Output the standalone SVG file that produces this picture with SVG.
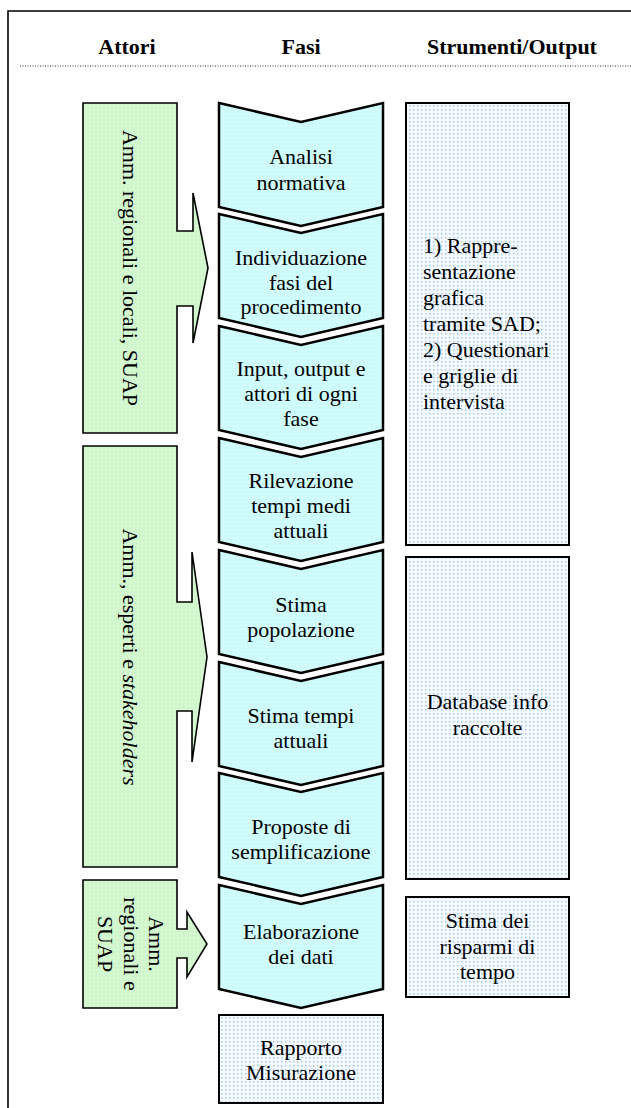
<svg xmlns="http://www.w3.org/2000/svg" width="631" height="1108" viewBox="0 0 631 1108" font-family="'Liberation Serif', 'DejaVu Serif', 'Noto Serif', serif">
<defs>
<pattern id="dots" width="4" height="4" patternUnits="userSpaceOnUse">
<rect width="4" height="4" fill="#f7fbff"/>
<rect x="1" y="1" width="1.5" height="1.5" fill="#9cc9f2"/>
</pattern>
<pattern id="cyan" width="4" height="4" patternUnits="userSpaceOnUse">
<rect width="4" height="4" fill="#ccfbfb"/>
<rect x="1" y="1" width="1.5" height="1.5" fill="#e2fdfd"/>
</pattern>
<pattern id="green" width="4" height="4" patternUnits="userSpaceOnUse">
<rect width="4" height="4" fill="#cff7cb"/>
<rect x="1" y="1" width="1.5" height="1.5" fill="#e4fae1"/>
</pattern>
</defs>
<style>
text{font-family:'Liberation Serif','DejaVu Serif','Noto Serif',serif;font-size:22px;fill:#000}
.hd{font-weight:bold;text-anchor:middle}
.c{text-anchor:middle}
.chev{fill:url(#cyan);stroke:#000;stroke-width:2.5;stroke-linejoin:miter}
.act{fill:url(#green);stroke:#000;stroke-width:1.6}
.out{fill:url(#dots);stroke:#000;stroke-width:2}
</style>
<g id="frame">
<path d="M8,1108 L8,11 L631,11" fill="none" stroke="#000" stroke-width="1.6"/>
<line x1="20" y1="66" x2="631" y2="66" stroke="#333" stroke-width="1" stroke-dasharray="1 1.5"/>
<text class="hd" x="127" y="54" font-family="Liberation Serif">Attori</text>
<text class="hd" x="301" y="54" font-family="Liberation Serif">Fasi</text>
<text class="hd" x="512" y="54" font-family="Liberation Serif">Strumenti/Output</text>
</g>
<g id="actor1">
<path class="act" d="M83,103 L177,103 L177,231 L193,231 L193,193 L208,268 L193,343 L193,306 L177,306 L177,433 L83,433 Z"/>
<text class="c" transform="translate(123,268) rotate(90)" x="0" y="0">Amm. regionali e locali, SUAP</text>
</g>
<g id="actor2">
<path class="act" d="M83,446 L177,446 L177,602 L192,602 L192,552 L207,657 L192,762 L192,711 L177,711 L177,867 L83,867 Z"/>
<text class="c" transform="translate(123,657) rotate(90)" x="0" y="0">Amm., esperti e <tspan font-style="italic">stakeholders</tspan></text>
</g>
<g id="actor3">
<path class="act" d="M83,880 L177,880 L177,929 L187,929 L187,912 L207,944 L187,977 L187,958 L177,958 L177,1008 L83,1008 Z"/>
<text class="c" transform="translate(149,944) rotate(90)" x="0" y="0">Amm.</text>
<text class="c" transform="translate(123.7,944) rotate(90)" x="0" y="0">regionali e</text>
<text class="c" transform="translate(98.4,944) rotate(90)" x="0" y="0">SUAP</text>
</g>
<g id="phase1">
<path class="chev" d="M219,103 L301,122 L383,103 L383,207 L301,226 L219,207 Z"/>
<text class="c" x="301" y="164">Analisi</text>
<text class="c" x="301" y="190">normativa</text>
</g>
<g id="phase2">
<path class="chev" d="M219,214 L301,233 L383,214 L383,318 L301,337 L219,318 Z"/>
<text class="c" x="301" y="265">Individuazione</text>
<text class="c" x="301" y="289.5">fasi del</text>
<text class="c" x="301" y="314">procedimento</text>
</g>
<g id="phase3">
<path class="chev" d="M219,326 L301,345 L383,326 L383,430 L301,449 L219,430 Z"/>
<text class="c" x="301" y="376">Input, output e</text>
<text class="c" x="301" y="401">attori di ogni</text>
<text class="c" x="301" y="426">fase</text>
</g>
<g id="phase4">
<path class="chev" d="M219,438 L301,457 L383,438 L383,542 L301,561 L219,542 Z"/>
<text class="c" x="301" y="488">Rilevazione</text>
<text class="c" x="301" y="513">tempi medi</text>
<text class="c" x="301" y="538">attuali</text>
</g>
<g id="phase5">
<path class="chev" d="M219,550 L301,569 L383,550 L383,654 L301,673 L219,654 Z"/>
<text class="c" x="301" y="612">Stima</text>
<text class="c" x="301" y="637">popolazione</text>
</g>
<g id="phase6">
<path class="chev" d="M219,662 L301,681 L383,662 L383,766 L301,785 L219,766 Z"/>
<text class="c" x="301" y="723">Stima tempi</text>
<text class="c" x="301" y="748">attuali</text>
</g>
<g id="phase7">
<path class="chev" d="M219,773 L301,792 L383,773 L383,877 L301,896 L219,877 Z"/>
<text class="c" x="301" y="834">Proposte di</text>
<text class="c" x="301" y="859">semplificazione</text>
</g>
<g id="phase8">
<path class="chev" d="M219,885 L301,904 L383,885 L383,989 L301,1008 L219,989 Z"/>
<text class="c" x="301" y="939">Elaborazione</text>
<text class="c" x="301" y="964">dei dati</text>
</g>
<g id="report">
<rect class="out" x="219" y="1015" width="164" height="88"/>
<text class="c" x="301" y="1055">Rapporto</text>
<text class="c" x="301" y="1080">Misurazione</text>
</g>
<g id="output1">
<rect class="out" x="406" y="103" width="163" height="442"/>
<text x="423" y="253">1) Rappre-</text>
<text x="423" y="279">sentazione</text>
<text x="423" y="305">grafica</text>
<text x="423" y="331">tramite SAD;</text>
<text x="423" y="357">2) Questionari</text>
<text x="423" y="383">e griglie di</text>
<text x="423" y="409">intervista</text>
</g>
<g id="output2">
<rect class="out" x="406" y="557" width="163" height="322"/>
<text class="c" x="487.5" y="709">Database info</text>
<text class="c" x="487.5" y="735">raccolte</text>
</g>
<g id="output3">
<rect class="out" x="406" y="897" width="163" height="100"/>
<text class="c" x="487.5" y="928">Stima dei</text>
<text class="c" x="487.5" y="954">risparmi di</text>
<text class="c" x="487.5" y="979">tempo</text>
</g>
<g id="connectors"></g>
</svg>
